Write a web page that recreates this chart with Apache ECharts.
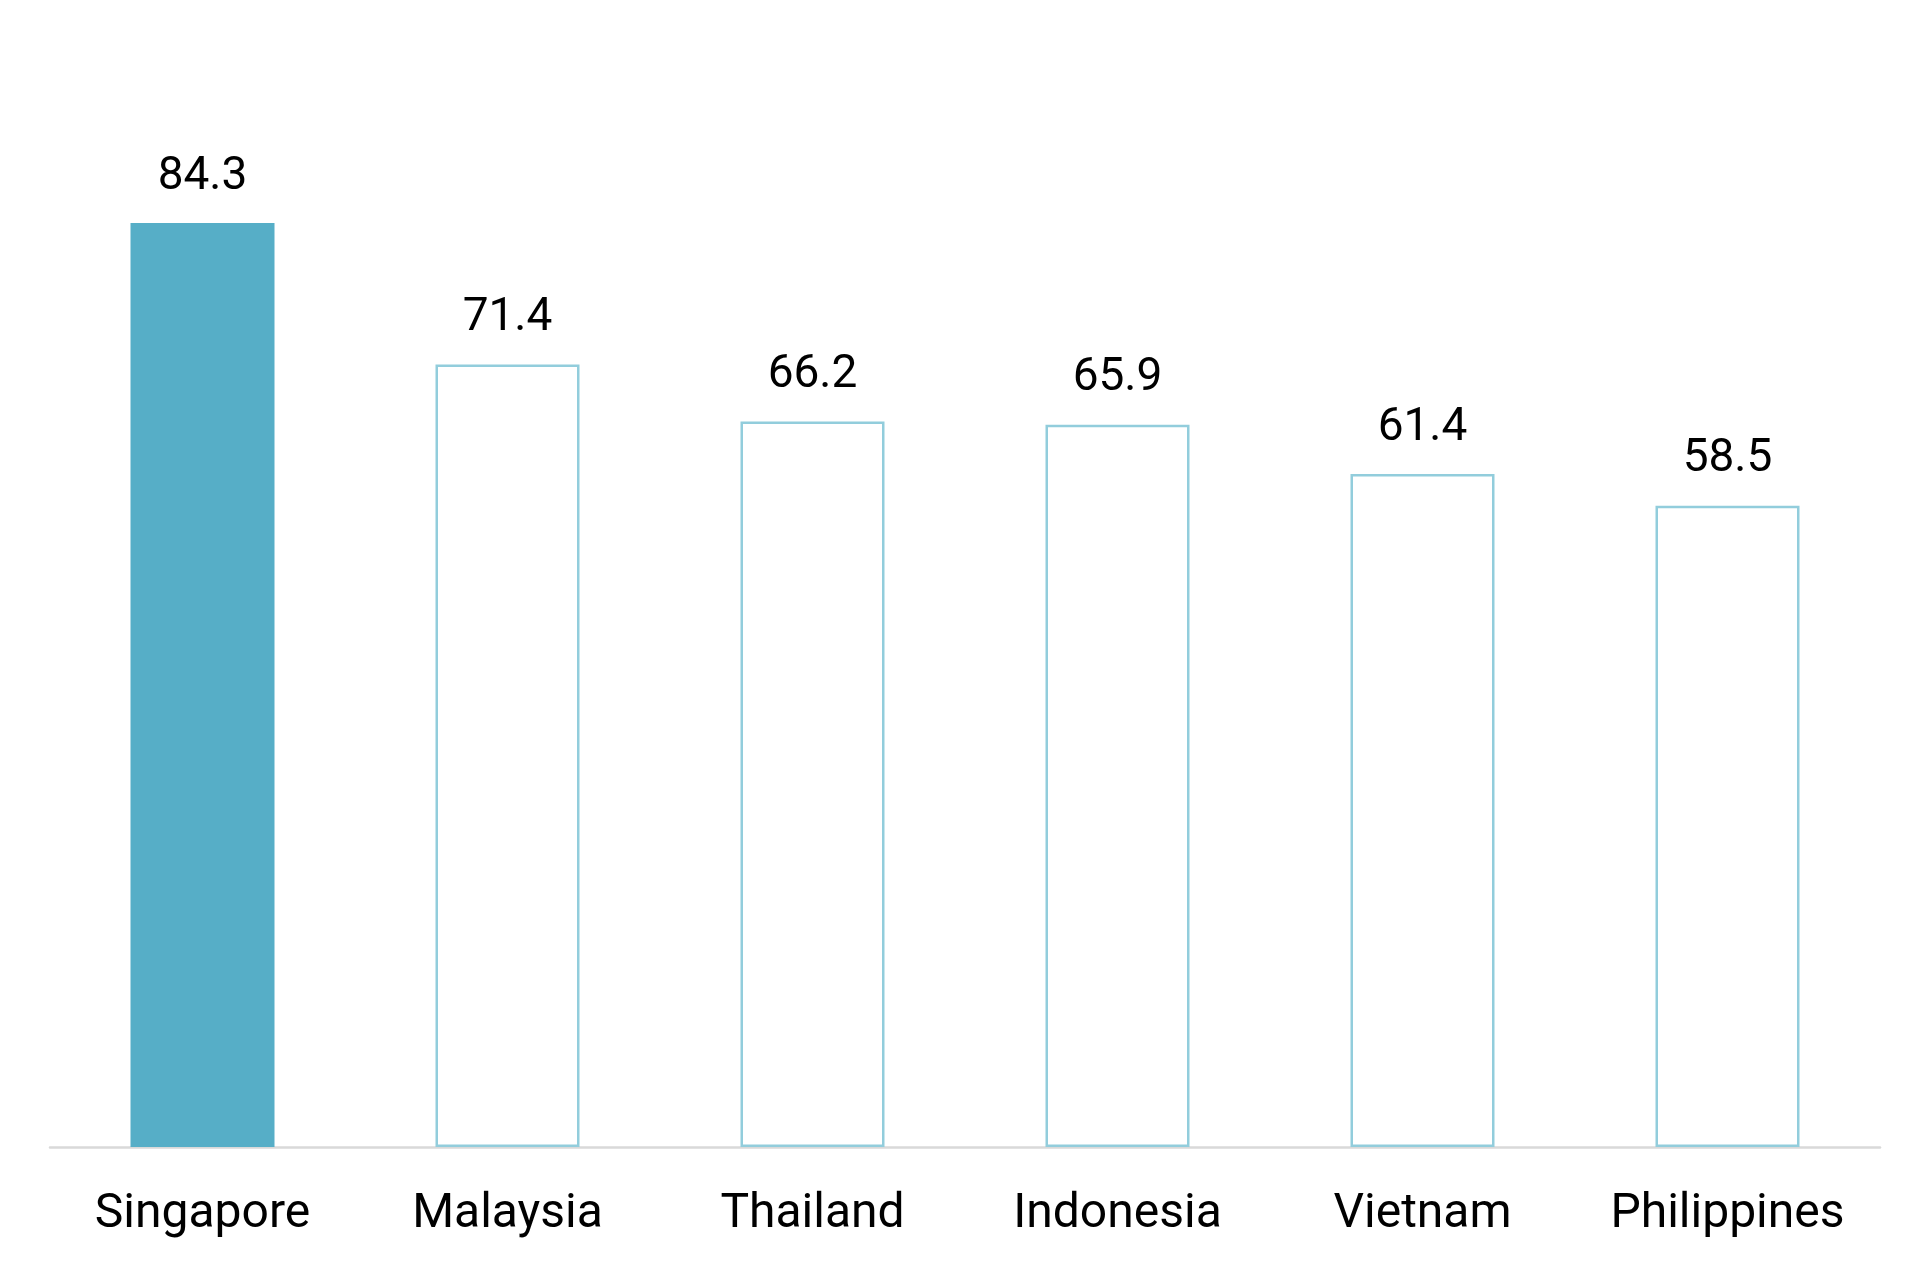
<!DOCTYPE html>
<html>
<head>
<meta charset="utf-8">
<script src="https://cdn.jsdelivr.net/npm/echarts@6/dist/echarts.min.js"></script>
<style>
html,body{margin:0;padding:0;background:#fff;}
#chart{width:1931px;height:1270px;}
</style>
</head>
<body>
<div id="chart"></div>
<script>
const categories = ['Singapore', 'Malaysia', 'Thailand', 'Indonesia', 'Vietnam', 'Philippines'];
const values = [84.3, 71.4, 66.2, 65.9, 61.4, 58.5];
const highlightIndex = 0;

const chart = echarts.init(document.getElementById('chart'));
const fontFamily = 'Roboto, "Noto Sans", sans-serif';

const data = values.map((v, i) => ({
  value: v,
  itemStyle: i === highlightIndex
    ? { color: '#56AEC7', borderWidth: 0 }
    : { color: '#FFFFFF', borderColor: '#92CDDC', borderWidth: 2.5 }
}));

chart.setOption({
  animation: false,
  backgroundColor: '#FFFFFF',
  grid: { left: 50, right: 51, top: 51, bottom: 123, containLabel: false },
  xAxis: {
    type: 'category',
    data: categories,
    axisLine: { show: true, lineStyle: { color: '#D9D9D9', width: 2.5 } },
    axisTick: { show: false },
    axisLabel: { color: '#000000', fontSize: 48, fontFamily: fontFamily, margin: 44 }
  },
  yAxis: {
    type: 'value',
    min: 0,
    max: 100,
    show: false,
    splitLine: { show: false }
  },
  series: [{
    type: 'bar',
    data: data,
    barWidth: 144,
    label: {
      show: true,
      position: 'top',
      distance: 23,
      color: '#000000',
      fontSize: 46,
      fontFamily: fontFamily,
      formatter: p => p.value.toFixed(1)
    }
  }]
});
</script>
</body>
</html>
